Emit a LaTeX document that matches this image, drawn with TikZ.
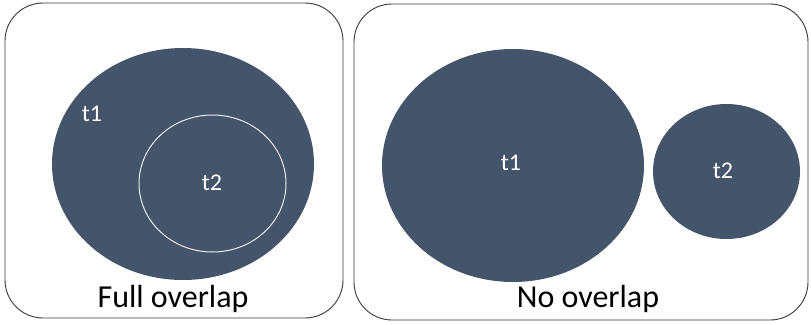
\documentclass[tikz,border=0pt]{standalone}
\usepackage{fontspec}
\setmainfont{Carlito}
\usetikzlibrary{shapes.geometric}
\definecolor{slate}{HTML}{44546A}
\definecolor{frame}{HTML}{383838}
\tikzset{
  panel/.style={draw=frame, line width=0.9pt, rounded corners=38pt, rectangle, inner sep=0pt},
  blob/.style={ellipse, fill=slate, inner sep=0pt},
  ring/.style={ellipse, draw=white!88!slate, line width=1pt, inner sep=0pt},
  lbl/.style={text=white, font=\fontsize{24}{26}\selectfont, inner sep=0pt},
  caption/.style={text=black, font=\fontsize{32}{36}\selectfont, inner sep=0pt, anchor=base}
}
\begin{document}
\begin{tikzpicture}[x=1pt,y=-1pt]
\useasboundingbox (0,0) rectangle (811,324);
% left panel
\node[panel, minimum width=338pt, minimum height=315pt] (pl) at (174,160.5) {};
\node[blob, minimum width=262pt, minimum height=232pt] (lt1) at (183,164) {};
\node[ring, minimum width=147pt, minimum height=137pt] (lt2) at (212.5,183.5) {};
\node[lbl] (lt1l) at (92,114) {t1};
\node[lbl] (lt2l) at (212,183) {t2};
\node[caption] (cl) at (173,307) {Full overlap};
% right panel
\node[panel, minimum width=454pt, minimum height=316pt] (pr) at (581,162) {};
\node[blob, minimum width=262pt, minimum height=233pt] (rt1) at (513,165.5) {};
\node[blob, minimum width=147pt, minimum height=135pt] (rt2) at (726.5,171.5) {};
\node[lbl] (rt1l) at (511,163) {t1};
\node[lbl] (rt2l) at (723,171) {t2};
\node[caption] (cr) at (588,307) {No overlap};
\end{tikzpicture}
\end{document}
